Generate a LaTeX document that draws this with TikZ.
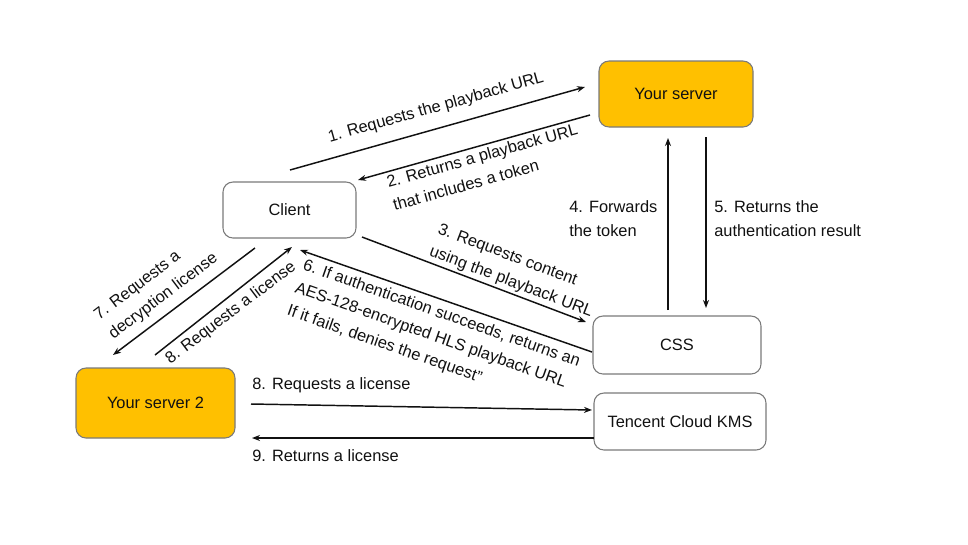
\documentclass[tikz,border=0pt]{standalone}
\usepackage{fontspec}
\setmainfont{Liberation Sans}
\usetikzlibrary{arrows.meta}
\definecolor{amber}{HTML}{FFC000}
\definecolor{boxline}{HTML}{7A7A7A}
\definecolor{ink}{HTML}{111111}
\begin{document}
\begin{tikzpicture}[x=0.75pt,y=-0.75pt,
  box/.style={draw=boxline,line width=0.8pt,rounded corners=7.5pt,align=center,inner sep=0pt,text=ink},
  ybox/.style={box,fill=amber},
  arr/.style={-{Stealth[length=6pt,width=4.5pt]},line width=1.1pt,draw=ink},
  lbl/.style={align=left,anchor=north west,inner sep=0pt,text=ink,font=\fontsize{12.3}{18}\selectfont},
  llbl/.style={align=left,anchor=west,inner sep=0pt,text=ink,font=\fontsize{12.3}{18}\selectfont}]
\useasboundingbox (0,0) rectangle (968,544);
\fill[white] (0,0) rectangle (968,544);
\tikzset{every node/.append style={font=\fontsize{12.3}{15}\selectfont}}
% boxes
\node[ybox,minimum width=115.5pt,minimum height=49.5pt] (ys) at (676,94) {Your server};
\node[box,minimum width=99.75pt,minimum height=42pt] (client) at (289.5,210) {Client};
\node[box,minimum width=126pt,minimum height=43.5pt] (css) at (677,345) {CSS};
\node[box,minimum width=129pt,minimum height=42.75pt] (kms) at (680,421.5) {Tencent Cloud KMS};
\node[ybox,minimum width=119.25pt,minimum height=52.5pt] (ys2) at (155.5,403) {Your server 2};
% connector end points
\coordinate (a1s) at (290,170); \coordinate (a1e) at (585,87);
\coordinate (a2s) at (590,115); \coordinate (a2e) at (358,180);
\coordinate (a3s) at (362,237); \coordinate (a3e) at (586,322);
\coordinate (a6s) at (592,352); \coordinate (a6e) at (300,250);
\coordinate (a4s) at (668,310); \coordinate (a4e) at (668,138);
\coordinate (a5s) at (706,137); \coordinate (a5e) at (706,308);
\coordinate (a7s) at (255,248); \coordinate (a7e) at (113,355);
\coordinate (a8s) at (155,355); \coordinate (a8e) at (292,247);
\coordinate (h8s) at (251,404); \coordinate (h8e) at (592,410);
\coordinate (h9s) at (594,438); \coordinate (h9e) at (252,438);
% connectors
\draw[arr] (a1s) -- (a1e);
\draw[arr] (a2s) -- (a2e);
\draw[arr] (a3s) -- (a3e);
\draw[arr] (a6s) -- (a6e);
\draw[arr] (a4s) -- (a4e);
\draw[arr] (a5s) -- (a5e);
\draw[arr] (a7s) -- (a7e);
\draw[arr] (a8s) -- (a8e);
\draw[arr] (h8s) -- (h8e);
\draw[arr] (h9s) -- (h9e);
% labels
\node[lbl,anchor=center,rotate=15.7] (l1) at (436,108) {1. Requests the playback URL};
\node[lbl,rotate=15.6] (l2) at (385,176) {2. Returns a playback URL\\that includes a token};
\node[lbl,rotate=-20.8] (l3) at (441,222) {3. Requests content\\using the playback URL};
\node[lbl,rotate=-19.4] (l6) at (306,258) {6. If authentication succeeds, returns an\\AES-128-encrypted HLS playback URL\\If it fails, denies the request"};
\node[lbl,rotate=37] (l7) at (92,311) {7. Requests a\\decryption license};
\node[lbl,anchor=center,rotate=37] (l8d) at (231,313) {8. Requests a license};
\node[llbl] (l4) at (569,219) {4. Forwards\\the token};
\node[llbl] (l5) at (714,219) {5. Returns the\\authentication result};
\node[llbl] (l8h) at (252,385) {8. Requests a license};
\node[llbl] (l9) at (252,456) {9. Returns a license};
\end{tikzpicture}
\end{document}
